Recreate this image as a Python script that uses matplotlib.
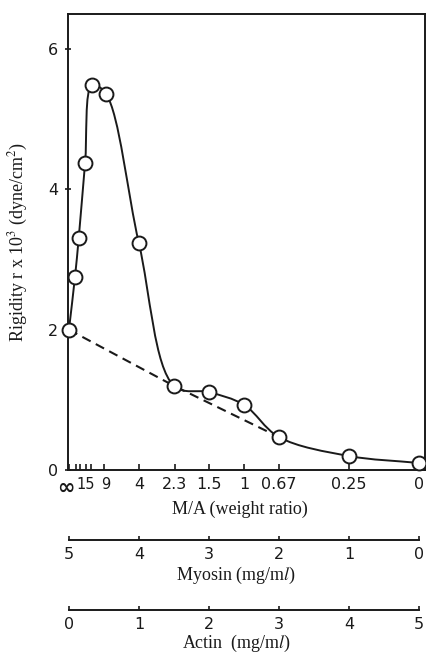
import numpy as np
import matplotlib
matplotlib.use("Agg")
import matplotlib.pyplot as plt
from matplotlib.path import Path
from matplotlib.patches import PathPatch
from matplotlib.transforms import ScaledTranslation

# actin concentration (mg/ml) of each gel, myosin = 5 - actin
actin = [0.0, 0.086, 0.14, 0.23, 0.33, 0.53, 1.0, 1.5, 2.0, 2.5, 3.0, 4.0, 5.0]
rigidity = [2.0, 2.75, 3.31, 4.37, 5.49, 5.36, 3.23, 1.2, 1.11, 0.93, 0.47, 0.2, 0.1]

# dashed line drawn through three of the points
dash_actin = [0.0, 1.5, 3.0]
dash_rigidity = [2.0, 1.2, 0.47]

total = 5.0
ma_labels = ["\u221e", "15", "9", "4", "2.3", "1.5", "1", "0.67", "0.25", "0"]
ma_values = [None, 15, 9, 4, 2.3, 1.5, 1, 0.67, 0.25, 0]
ma_minor = [50, 30, 20]


def ma_to_actin(r):
    # M/A weight ratio -> actin position on the common scale
    if r is None:
        return 0.0
    return total / (1.0 + r)


def catmull_rom_path(xs, ys, alpha=0.5):
    # smooth path through the points (centripetal Catmull-Rom as Bezier)
    pts = np.column_stack([xs, ys]).astype(float)
    n = len(pts)
    ext = np.vstack([2 * pts[0] - pts[1], pts, 2 * pts[-1] - pts[-2]])
    verts = [pts[0]]
    codes = [Path.MOVETO]
    for i in range(1, n):
        p0, p1, p2, p3 = ext[i - 1], ext[i], ext[i + 1], ext[i + 2]
        d1 = np.linalg.norm(p1 - p0) ** alpha
        d2 = np.linalg.norm(p2 - p1) ** alpha
        d3 = np.linalg.norm(p3 - p2) ** alpha
        m1 = d2 * ((p1 - p0) / d1 - (p2 - p0) / (d1 + d2)) + (p2 - p1)
        m2 = d2 * ((p3 - p2) / d3 - (p3 - p1) / (d2 + d3)) + (p2 - p1)
        verts += [p1 + m1 / 3, p2 - m2 / 3, p2]
        codes += [Path.CURVE4] * 3
    return Path(verts, codes)


plt.rcParams["mathtext.fontset"] = "stix"
serif = "Liberation Serif"
sans = "DejaVu Sans"
ink = "#1a1a1a"

fig = plt.figure(figsize=(4.27, 6.57), dpi=100)
ax = fig.add_axes([0.159, 0.2846, 0.836, 0.694])

xlim = (-0.015, 5.085)
ax.set_xlim(*xlim)
ax.set_ylim(0, 6.5)

curve = catmull_rom_path(actin, rigidity)
ax.add_patch(PathPatch(curve, facecolor="none", edgecolor=ink, lw=1.4, zorder=2))
ax.plot(dash_actin, dash_rigidity, color=ink, lw=1.5, dashes=(4.5, 2.8), zorder=2)
ax.plot(actin, rigidity, linestyle="none", marker="o", ms=10, mfc="white",
        mec=ink, mew=1.4, zorder=3, clip_on=False)

for s in ax.spines.values():
    s.set_linewidth(1.4)
    s.set_color(ink)

ax.set_yticks([0, 2, 4, 6])
ax.tick_params(axis="y", direction="inout", length=4, width=1.2, pad=5,
               labelsize=11.5, colors=ink)
for t in ax.get_yticklabels():
    t.set_fontfamily(sans)

ax.set_xticks([ma_to_actin(v) for v in ma_values])
ax.set_xticklabels(ma_labels)
ax.set_xticks([ma_to_actin(v) for v in ma_minor], minor=True)
ax.tick_params(axis="x", which="both", direction="in", length=4, width=1.2,
               pad=5, labelsize=11.5, colors=ink)
xlabels = ax.get_xticklabels()
for t in xlabels:
    t.set_fontfamily(sans)
# the crowded labels near the left end sit a little apart
xlabels[0].set_fontsize(15)
xlabels[0].set_fontweight("bold")
xlabels[0].set_transform(xlabels[0].get_transform()
                         + ScaledTranslation(-2 / 72, -1 / 72, fig.dpi_scale_trans))
xlabels[1].set_transform(xlabels[1].get_transform()
                         + ScaledTranslation(-3.5 / 72, 0, fig.dpi_scale_trans))
xlabels[1].set_fontsize(10.5)
xlabels[2].set_transform(xlabels[2].get_transform()
                         + ScaledTranslation(1.5 / 72, 0, fig.dpi_scale_trans))
xlabels[2].set_fontsize(10.5)

ax.set_ylabel(r"Rigidity r x 10$^3$ (dyne/cm$^2$)", fontfamily=serif,
              fontsize=13, color=ink)
ax.yaxis.set_label_coords(-0.105, 0.5)

fig.text(0.562, 0.224, "M/A (weight ratio)", fontfamily=serif, fontsize=13,
         ha="center", va="center", color=ink)


def scale_axis(ypos, labels, title, title_y):
    sub = fig.add_axes([0.159, ypos, 0.836, 0.001])
    sub.set_xlim(*xlim)
    sub.set_ylim(0, 1)
    for k in ("left", "right", "top"):
        sub.spines[k].set_visible(False)
    sub.spines["bottom"].set_bounds(0, total)
    sub.spines["bottom"].set_linewidth(1.4)
    sub.spines["bottom"].set_color(ink)
    sub.patch.set_visible(False)
    sub.set_yticks([])
    sub.set_xticks(np.arange(0, 6))
    sub.set_xticklabels(labels)
    sub.tick_params(axis="x", direction="in", length=3, width=1.2, pad=5,
                    labelsize=11.5, colors=ink)
    for t in sub.get_xticklabels():
        t.set_fontfamily(sans)
    fig.text(0.553, title_y, title, fontfamily=serif, fontsize=13,
             ha="center", va="bottom", color=ink)


scale_axis(0.178, ["5", "4", "3", "2", "1", "0"],
           r"Myosin (mg/m$\mathit{l}$)", 0.108)
scale_axis(0.0715, ["0", "1", "2", "3", "4", "5"],
           r"Actin  (mg/m$\mathit{l}$)", 0.004)

fig.savefig("out.png", dpi=100)
